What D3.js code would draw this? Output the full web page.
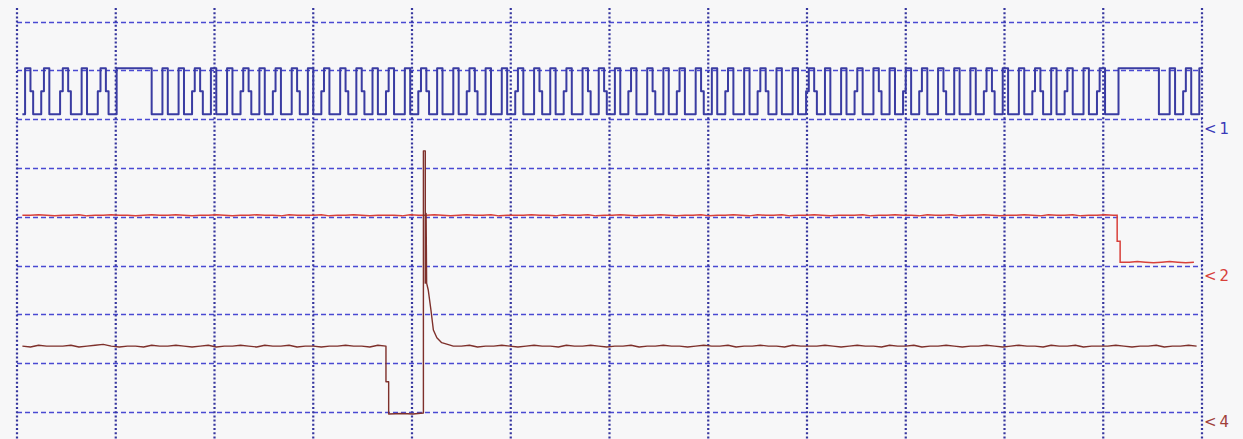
<!DOCTYPE html>
<html><head><meta charset="utf-8">
<script src="https://cdn.jsdelivr.net/npm/d3@7"></script>
<style>html,body{margin:0;padding:0;background:#f7f7f8;} svg{display:block;}</style>
</head><body>
<svg id="c" width="1243" height="439"></svg>
<script>
// ---- axes (time in samples, amplitude in divisions) ----
const divisionsX = 12;
const divisionsY = 8;
const samplesTotal = 440;
const channelLabels = ["<1", "<2", "<4"];
const channelOffsets = [6, 3, 0];

// ---- channel 1 (digital, blue): one char per sample, starting at sample 2 ----
const ch1Start = 2;
const ch1Chunks = [
  "011m000m110000m11m0000110000m11m000",
  "1111111111111",
  "0000",
  "11000011000m11m00011000011000m11m000",
  "11000m11000011m00011000m11000011m000",
  "11m00011000m11000011000m11m000110000",
  "11000m11m00011000011000m11000011m000",
  "11000m11000011m00011m00011000m110000",
  "11m00011000m11000011m00011000m110000",
  "11000m11m00011000011000m11m000110000",
  "11000m11000011m00011000m11000m110000",
  "11m00011000011000m11m00011000011000m",
  "11m00011000m11000011000m110000",
  "0111111111111111000011000m1100011"
];
const ch1Levels = { "0": 0.10, "m": 0.57, "1": 1.04 };

// ---- channel 2 (red) ----
const ch2High = 1.03;
const ch2Low = 0.07;
const ch2HighNoise = "2232122312232212322321223212232213222312232122213223212322312223221322312232122321223122321322312232122231223221322312232122321322312232";
const ch2Drop = [[408.5, 1.03], [408.5, 0.5], [409.6, 0.5], [409.6, 0.07]];
const ch2LowNoise = "22321232123";

// ---- channel 4 (dark red) ----
const ch4Base = 1.35;
const ch4PreNoise = "213222312342122132232123122321322312212232213";
const ch4Event = [
  [137, 1.35], [137, 0.62], [138, 0.62], [138, -0.04], [143, -0.03], [147, -0.04],
  [150.9, -0.02], [150.9, 5.35], [151.6, 5.35], [151.6, 2.64], [151.9, 4.07], [152.1, 2.64],
  [152.7, 2.50], [153.7, 2.09], [154.6, 1.68], [155.9, 1.52], [157.7, 1.42], [160.8, 1.37]
];
const ch4PostNoise = "2231223212322132232122312232212322312232213222321232213223122321223212322132231222321223122321";

// ---- build ----
const svg = d3.select("#c");
const x = d3.scaleLinear().domain([0, samplesTotal]).range([17, 1202]);
const y = d3.scaleLinear().domain([0, divisionsY]).range([412, 21.5]);

svg.append("rect").attr("width", 1243).attr("height", 439).attr("fill", "#f7f7f8");

const grid = svg.append("g");
grid.selectAll("line.h").data(d3.range(0, divisionsY + 1)).join("line")
  .attr("class", "h")
  .attr("x1", x(0)).attr("x2", x(samplesTotal))
  .attr("y1", d => Math.round(y(d)) + 0.5).attr("y2", d => Math.round(y(d)) + 0.5)
  .attr("stroke", "#4a4ad2").attr("stroke-width", 1.3).attr("stroke-dasharray", "5,3");
grid.selectAll("line.v").data(d3.range(0, divisionsX + 1)).join("line")
  .attr("class", "v")
  .attr("x1", d => x(d * samplesTotal / divisionsX)).attr("x2", d => x(d * samplesTotal / divisionsX))
  .attr("y1", 8).attr("y2", 439)
  .attr("stroke", "#36369e").attr("stroke-width", 2.2).attr("stroke-dasharray", "2,2.2");

// channel 1 points
const ch1Str = ch1Chunks.join("");
const ch1Pts = Array.from(ch1Str).map((c, i) => [ch1Start + i, channelOffsets[0] + ch1Levels[c]]);

// channel 2 points
const ch2Pts = [];
Array.from(ch2HighNoise).forEach((c, i) => { const s = 2 + 3 * i; if (s < 408.5) ch2Pts.push([s, channelOffsets[1] + ch2High + (+c - 2) * 0.012]); });
ch2Drop.forEach(p => ch2Pts.push([p[0], channelOffsets[1] + p[1]]));
Array.from(ch2LowNoise).forEach((c, i) => { const s = 410 + 3 * i; if (s <= 439.5) ch2Pts.push([s, channelOffsets[1] + ch2Low + (+c - 2) * 0.012]); });

// channel 4 points
const ch4Pts = [];
Array.from(ch4PreNoise).forEach((c, i) => { const s = 2 + 3 * i; if (s < 137) ch4Pts.push([s, channelOffsets[2] + ch4Base + (+c - 2) * 0.018]); });
ch4Event.forEach(p => ch4Pts.push([p[0], channelOffsets[2] + p[1]]));
Array.from(ch4PostNoise).forEach((c, i) => { const s = 162 + 3 * i; if (s <= 439.5) ch4Pts.push([s, channelOffsets[2] + ch4Base + (+c - 2) * 0.018]); });

const lineStep = d3.line().x(d => x(d[0])).y(d => y(d[1])).curve(d3.curveStepAfter);
const lineLin = d3.line().x(d => x(d[0])).y(d => y(d[1]));

svg.append("path").attr("d", lineStep(ch1Pts)).attr("fill", "none")
  .attr("stroke", "#3a3ca2").attr("stroke-width", 2).attr("stroke-linejoin", "round");
svg.append("path").attr("d", lineLin(ch2Pts)).attr("fill", "none")
  .attr("stroke", "#d8403a").attr("stroke-width", 1.5);
svg.append("path").attr("d", lineLin(ch4Pts)).attr("fill", "none")
  .attr("stroke", "#7e302b").attr("stroke-width", 1.4).attr("stroke-linejoin", "round");

const labelColors = ["#3a3ab8", "#d8403a", "#a0403a"];
svg.selectAll("text.lbl").data(channelLabels).join("text")
  .attr("class", "lbl")
  .attr("x", 1204)
  .attr("y", (d, i) => y(channelOffsets[i]) + 15)
  .attr("fill", (d, i) => labelColors[i])
  .attr("font-family", "DejaVu Sans, Verdana, sans-serif")
  .attr("font-size", 15)
  .attr("letter-spacing", 3)
  .text(d => d);
</script>
</body></html>
